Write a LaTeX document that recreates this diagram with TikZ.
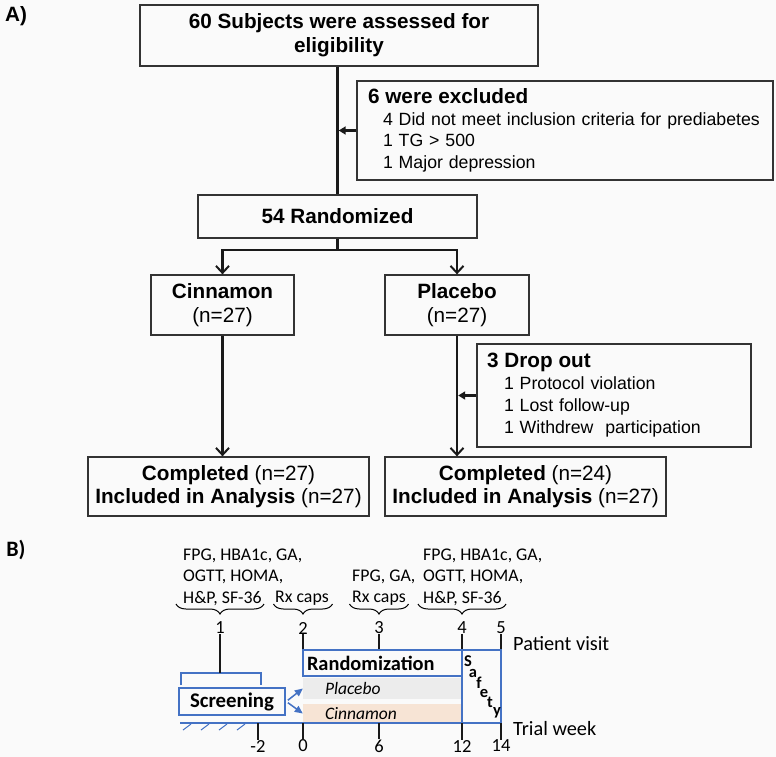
\documentclass[tikz,border=0pt]{standalone}
\usepackage{fontspec}
\setmainfont{Liberation Sans}
\newfontfamily\calfont{Carlito}
\usepackage{tikz}
\usetikzlibrary{arrows.meta,decorations.pathreplacing}
\definecolor{boxgray}{RGB}{51,51,51}
\definecolor{visitblue}{RGB}{68,114,196}
\definecolor{placebogray}{RGB}{236,236,236}
\definecolor{cinnpeach}{RGB}{247,228,213}
\definecolor{bgpaper}{RGB}{250,250,250}

\begin{document}
\begin{tikzpicture}[x=1pt, y=-1pt,
  box/.style={draw=boxgray, line width=1.3pt, inner sep=0pt, align=center},
  big/.style={font=\fontsize{20.7}{24}\selectfont},
  bigbold/.style={font=\fontsize{20.7}{24}\selectfont\bfseries},
  flow/.style={line width=2.4pt, draw=black!90, -{Straight Barb[length=7pt,width=13pt,line width=2pt]}},
  side/.style={line width=2.4pt, draw=black!90, -{Triangle[length=7pt,width=8pt]}, shorten >=1.2pt},
  info/.style={inner sep=0pt, align=left, font=\calfont\fontsize{17.8}{21.5}\selectfont},
  num/.style={inner sep=0pt, font=\calfont\fontsize{18.5}{20}\selectfont},
  tick/.style={line width=2.5pt, black!90},
  brk/.style={decorate, decoration={brace, mirror, amplitude=10pt}, line width=1pt},
  bluebox/.style={draw=visitblue, line width=2.5pt, inner sep=0pt},
  band/.style={inner sep=0pt, inner xsep=22pt, text width=115pt, align=left, font=\calfont\itshape\fontsize{17.5}{20}\selectfont},
  bluearrow/.style={visitblue, line width=1.5pt, -{Triangle[length=8pt,width=7pt]}, shorten <=2pt}]
  \fill[bgpaper] (0,0) rectangle (776,757);
  \useasboundingbox (0,0) rectangle (776,757);

  % A) flow chart
  \node[bigbold, inner sep=0pt] (labA) at (16,16) {A)};
  \node[box, bigbold, minimum width=398pt, minimum height=61pt] (assess) at (339,35.5) {60 Subjects were assessed for\\eligibility};
  \node[box, text width=394pt, align=left, inner xsep=11pt, minimum height=99pt, font=\fontsize{17.7}{21.5}\selectfont] (excl) at (565,130.5)
    {{\fontsize{20.7}{24}\selectfont\bfseries 6 were excluded}\\
     \hspace*{15pt}4 Did not meet inclusion criteria for prediabetes\\
     \hspace*{15pt}1 TG > 500\\
     \hspace*{15pt}1 Major depression};
  \node[box, bigbold, minimum width=279pt, minimum height=43pt] (rand) at (337.5,216.5) {54 Randomized};
  \node[box, big, minimum width=143pt, minimum height=60pt] (cinn) at (222.5,305) {{\bfseries Cinnamon}\\(n=27)};
  \node[box, big, minimum width=144pt, minimum height=60pt] (plac) at (457,305) {{\bfseries Placebo}\\(n=27)};
  \node[box, text width=254pt, align=left, inner xsep=10pt, minimum height=103pt, font=\fontsize{17.7}{22}\selectfont] (drop) at (614,395.5)
    {{\fontsize{20.7}{24}\selectfont\bfseries 3 Drop out}\\
     \hspace*{17pt}1 Protocol violation\\
     \hspace*{17pt}1 Lost follow-up\\
     \hspace*{17pt}1 Withdrew\ \ participation};
  \node[box, minimum width=281pt, minimum height=59pt, font=\fontsize{20.7}{23}\selectfont] (doneC) at (228.5,486.5)
    {{\bfseries Completed} (n=27)\\{\bfseries Included in Analysis} (n=27)};
  \node[box, minimum width=281pt, minimum height=59pt, font=\fontsize{20.7}{23}\selectfont] (doneP) at (525.5,486.5)
    {{\bfseries Completed} (n=24)\\{\bfseries Included in Analysis} (n=27)};

  \coordinate (split) at (337.5,250);
  \draw[line width=2.4pt, black!90] (assess.south -| rand.north) -- (rand.north);
  \draw[side] (excl.west) -- (excl.west -| rand.north);
  \draw[line width=2.4pt, black!90] (rand.south) -- (split);
  \draw[flow] (split) -| (cinn.north);
  \draw[flow] (split) -| (plac.north);
  \draw[flow] (cinn.south) -- (cinn.south |- doneC.north);
  \draw[flow] (plac.south) -- (plac.south |- doneP.north);
  \draw[side] (drop.west) -- (drop.west -| plac.south);

  % B) timeline
  \node[inner sep=0pt, font=\calfont\fontsize{22}{24}\selectfont\bfseries] (labB) at (16,550) {B)};
  \node[info, anchor=west] (info1) at (183,577) {FPG, HBA1c, GA,\\OGTT, HOMA,\\H\&P, SF-36};
  \node[info, anchor=west] (info2) at (275,598) {Rx caps};
  \node[info, anchor=west] (info3) at (352,587.5) {FPG, GA,\\Rx caps};
  \node[info, anchor=west] (info4) at (423,577) {FPG, HBA1c, GA,\\OGTT, HOMA,\\H\&P, SF-36};
  \foreach \x/\w in {220/44,303/29.5,379/29.5,462/44}
    \draw[brk] ({\x-\w},604) -- ({\x+\w},604);
  \foreach \n/\x in {1/220,2/303,3/379,4/462,5/501}
    \node[num] (v\n) at (\x,628) {\n};

  \node[bluebox, minimum width=159pt, minimum height=26pt, text width=151pt, inner xsep=4pt, align=left,
        font=\calfont\bfseries\fontsize{20.4}{22}\selectfont] (rnd) at (382.5,663) {Randomization};
  \node[band, fill=placebogray, minimum height=21pt] (pband) at (382.5,688.5) {Placebo};
  \node[band, fill=cinnpeach, minimum height=19pt] (cband) at (382.5,713.5) {Cinnamon};
  \node[bluebox, minimum width=39pt, minimum height=73pt] (safe) at (481.5,686.5) {};
  \foreach \c/\x/\y in {S/468/661, a/473/673, f/479/683, e/484/693, t/490/702, y/497/713}
    \node[inner sep=0pt, font=\calfont\bfseries\fontsize{16.5}{18}\selectfont] at (\x,\y) {\c};
  \node[bluebox, minimum width=106pt, minimum height=27pt, font=\calfont\bfseries\fontsize{20.8}{22}\selectfont] (scr) at (232,701.5) {Screening};

  \coordinate (brkL) at (181,673);
  \coordinate (brkR) at (261,673);
  \draw[visitblue, line width=2.5pt] (181,685) -- (brkL) -- (brkR) -- (261,685);
  \coordinate (axL) at (180,723);
  \draw[visitblue, line width=2pt] (axL) -- (axL -| safe.east);
  \foreach \x in {191,209,227,245}
    \draw[visitblue, line width=1pt] (\x,724) -- ++(-8,6);
  \draw[bluearrow] (scr.east) -- (pband.west);
  \draw[bluearrow] (scr.east) -- (cband.west);

  \draw[tick] (v1.south) -- (v1.south |- brkL);
  \foreach \n in {2,3,4,5}
    \draw[tick] (v\n.south) -- (v\n.south |- rnd.north);

  \foreach \lab/\x [count=\i] in {-2/258, 0/303, 6/379, 12/462, 14/501}
    \node[num] (w\i) at (\x,746) {\lab};
  \foreach \i in {1,...,5}
    \draw[tick] (w\i.north) -- (w\i.north |- axL);

  \node[inner sep=0pt, anchor=west, font=\calfont\fontsize{20.3}{22}\selectfont] (visitlab) at (513,644) {Patient visit};
  \node[inner sep=0pt, anchor=west, font=\calfont\fontsize{20.3}{22}\selectfont] (weeklab) at (513,729) {Trial week};
\end{tikzpicture}
\end{document}
